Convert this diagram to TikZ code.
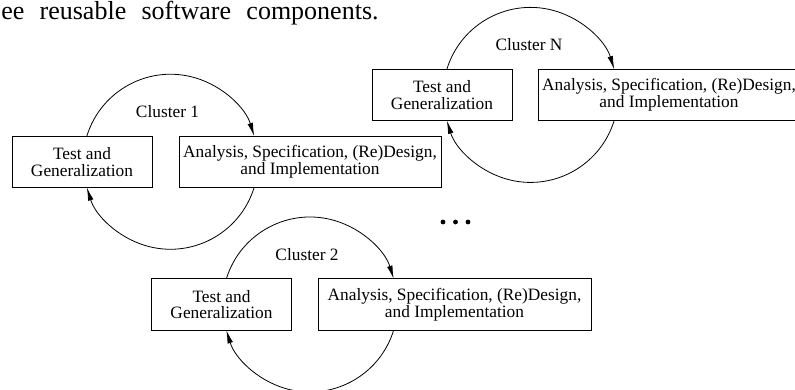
\documentclass[tikz,border=0pt]{standalone}
\usepackage{fontspec}
\setmainfont{Liberation Serif}
\usetikzlibrary{arrows.meta}
\begin{document}
\begin{tikzpicture}[x=0.75pt,y=-0.75pt,
  every node/.style={font=\fontsize{13}{12.5}\selectfont},
  boxnode/.style={draw,line width=0.7pt,align=center,minimum height=51.5*0.75pt,inner sep=0pt},
  testbox/.style={boxnode,minimum width=140*0.75pt},
  anabox/.style={boxnode},
  cyc/.style={line width=0.6pt,-{Latex[length=10pt,width=4.2pt]}},
  lbl/.style={anchor=base,inner sep=0pt}]
\useasboundingbox (0,0) rectangle (795,389);
\clip (0,0) rectangle (795,389);

% running text at the top
\node[anchor=base west,inner sep=0pt,font=\fontsize{19.5}{20}\selectfont] (toptext) at (1,19.5)
  {\makebox[283pt][s]{ee reusable software components.}};

% ---------- Cluster 1 ----------
\node[testbox] (t1) at (82,161.75) {Test and\\Generalization};
\node[anabox,minimum width=262*0.75pt] (a1) at (310,161.75) {Analysis, Specification, (Re)Design,\\and Implementation};
\coordinate (c1) at (170.5,161.75);
\node[lbl] (l1) at (167.5,117.3) {Cluster 1};
\draw[cyc] (c1) ++(197:87.5) arc[start angle=197,end angle=343,radius=87.5];
\draw[cyc] (c1) ++(17:87.5) arc[start angle=17,end angle=163,radius=87.5];

% ---------- Cluster N ----------
\node[testbox] (tN) at (442,94.9) {Test and\\Generalization};
\node[anabox,minimum width=262*0.75pt] (aN) at (669,94.9) {Analysis, Specification, (Re)Design,\\and Implementation};
\coordinate (cN) at (530.5,94.9);
\node[lbl] (lN) at (529,50) {Cluster N};
\draw[cyc] (cN) ++(197:87.5) arc[start angle=197,end angle=343,radius=87.5];
\draw[cyc] (cN) ++(17:87.5) arc[start angle=17,end angle=163,radius=87.5];

% ---------- Cluster 2 ----------
\node[testbox] (t2) at (221.5,304.5) {Test and\\Generalization};
\node[anabox,minimum width=273*0.75pt] (a2) at (454.5,304.5) {Analysis, Specification, (Re)Design,\\and Implementation};
\coordinate (c2) at (310,304.5);
\node[lbl] (l2) at (307,260) {Cluster 2};
\draw[cyc] (c2) ++(197:87.5) arc[start angle=197,end angle=343,radius=87.5];
\draw[cyc] (c2) ++(17:87.5) arc[start angle=17,end angle=163,radius=87.5];

% ellipsis dots
\fill (443,222) circle[radius=2.4];
\fill (455.5,222) circle[radius=2.4];
\fill (468,222) circle[radius=2.4];
\end{tikzpicture}
\end{document}
